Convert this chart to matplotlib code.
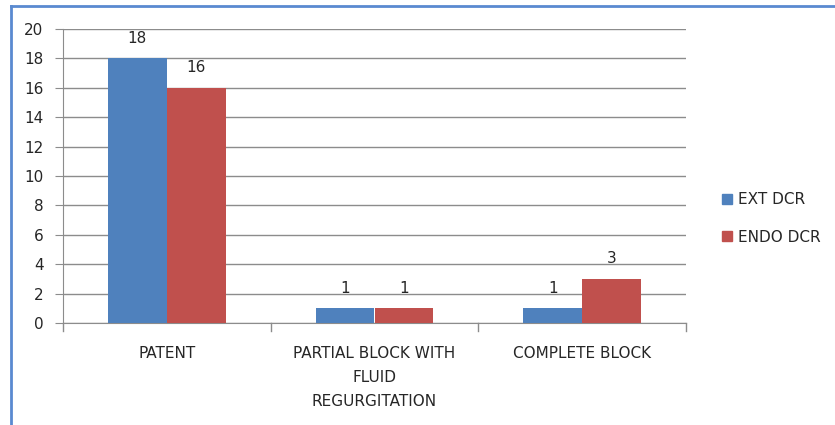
import matplotlib
matplotlib.use("Agg")
import matplotlib.pyplot as plt
from matplotlib.lines import Line2D
import numpy as np

categories = ["PATENT", "PARTIAL BLOCK WITH\nFLUID\nREGURGITATION", "COMPLETE BLOCK"]
series_names = ["EXT DCR", "ENDO DCR"]
ext_dcr = [18, 1, 1]
endo_dcr = [16, 1, 3]
yticks = [0, 2, 4, 6, 8, 10, 12, 14, 16, 18, 20]

colors = ["#4F81BD", "#C0504D"]
grid_c = "#8C8C8C"
txt_c = "#262626"
fs = 11

plt.rcParams['font.family'] = ['DejaVu Sans']
fig = plt.figure(figsize=(8.35, 4.25), dpi=100)
ax = fig.add_axes([63/835, 1-323/425, (686-63)/835, (323-29)/425])

x = np.arange(len(categories))
w = 0.284
b1 = ax.bar(x - w/2, ext_dcr, w, color=colors[0], label=series_names[0], zorder=3, linewidth=0)
b2 = ax.bar(x + w/2, endo_dcr, w, color=colors[1], label=series_names[1], zorder=3, linewidth=0)
for bars, vals in ((b1, ext_dcr), (b2, endo_dcr)):
    for r, v in zip(bars, vals):
        ax.annotate(str(v), (r.get_x() + r.get_width()/2, v), xytext=(0, 9),
                    textcoords="offset points", ha="center", va="bottom",
                    fontsize=fs, color=txt_c)

ax.set_xlim(-0.5, len(categories) - 0.5)
ax.set_ylim(0, 20)
ax.set_yticks(yticks)
ax.set_yticklabels([str(v) for v in yticks], fontsize=fs, color=txt_c)
ax.yaxis.grid(True, color=grid_c, linewidth=1, zorder=0)
ax.tick_params(axis='y', length=6, color=grid_c, pad=8)
ax.set_xticks([])
for xb in np.arange(-0.5, len(categories), 1.0):
    ax.plot([xb, xb], [0, -0.55], color=grid_c, lw=1, clip_on=False, zorder=2)
for xi, lab in zip(x, categories):
    ax.text(xi, -1.55, lab, ha="center", va="top", fontsize=fs, color=txt_c,
            linespacing=1.76)
for s in ("top", "right"):
    ax.spines[s].set_visible(False)
ax.spines["left"].set_color(grid_c)
ax.spines["bottom"].set_color(grid_c)

handles = [plt.Rectangle((0, 0), 1, 1, color=c) for c in colors]
fig.legend(handles, series_names, loc="center left", bbox_to_anchor=(708/835, 1-218.5/425),
           frameon=False, fontsize=fs, handlelength=0.65, handleheight=0.65,
           handletextpad=0.4, labelspacing=1.45, labelcolor=txt_c)

bc = "#5A8AD0"
fig.add_artist(Line2D([11/835, 11/835], [0, 1-6/425], color=bc, lw=2, transform=fig.transFigure))
fig.add_artist(Line2D([11/835, 1], [1-6/425, 1-6/425], color=bc, lw=2, transform=fig.transFigure))

fig.savefig("out.png", dpi=100)
